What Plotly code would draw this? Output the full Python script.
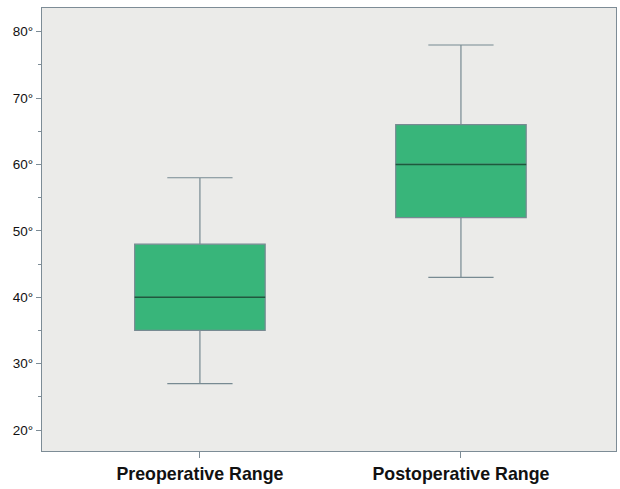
import plotly.graph_objects as go

categories = ["Preoperative Range", "Postoperative Range"]
lower_whisker = [27, 43]
q1_vals = [35, 52]
median_vals = [40, 60]
q3_vals = [48, 66]
upper_whisker = [58, 78]
y_ticks = [20, 30, 40, 50, 60, 70, 80]
y_tick_labels = [f"{v}°" for v in y_ticks]

fig = go.Figure()
fig.add_trace(go.Box(
    x=categories,
    q1=q1_vals, median=median_vals, q3=q3_vals,
    lowerfence=lower_whisker, upperfence=upper_whisker,
    fillcolor="#38b57a",
    line=dict(color="#778a92", width=1.2),
    width=0.5, whiskerwidth=0.5,
    boxpoints=False, showlegend=False, hoverinfo="skip",
))
# median lines in darker colour
for i, m in enumerate(median_vals):
    fig.add_trace(go.Scatter(
        x=[i - 0.25, i + 0.25], y=[m, m], mode="lines",
        line=dict(color="#1d5a3c", width=1.6),
        showlegend=False, hoverinfo="skip", xaxis="x2",
    ))

fig.update_layout(
    width=620, height=489,
    margin=dict(l=42, r=4, t=8, b=38),
    paper_bgcolor="white", plot_bgcolor="#ebebe9",
    xaxis=dict(
        type="category", range=[-0.605, 1.594],
        showline=True, linecolor="#7d8c96", linewidth=1.2, mirror=True,
        ticks="outside", ticklen=6, tickcolor="#7d8c96",
        showgrid=False, zeroline=False,
        tickfont=dict(family="Liberation Sans", size=17.8, color="#111111", weight="bold"),
    ),
    xaxis2=dict(overlaying="x", range=[-0.605, 1.594], visible=False),
    yaxis=dict(
        range=[16.84, 83.57],
        tickvals=y_ticks, ticktext=y_tick_labels,
        showline=True, linecolor="#7d8c96", linewidth=1.2, mirror=True,
        ticks="outside", ticklen=5, tickcolor="#7d8c96",
        minor=dict(dtick=5, ticks="outside", ticklen=3, tickcolor="#7d8c96"),
        showgrid=False, zeroline=False,
        tickfont=dict(family="Liberation Sans", size=13.5, color="#111111"),
    ),
)
fig.write_html(
    "out.html",
    config={"displayModeBar": False, "staticPlot": True},
    post_script="document.body.style.margin='0';document.body.style.overflow='hidden';",
)
